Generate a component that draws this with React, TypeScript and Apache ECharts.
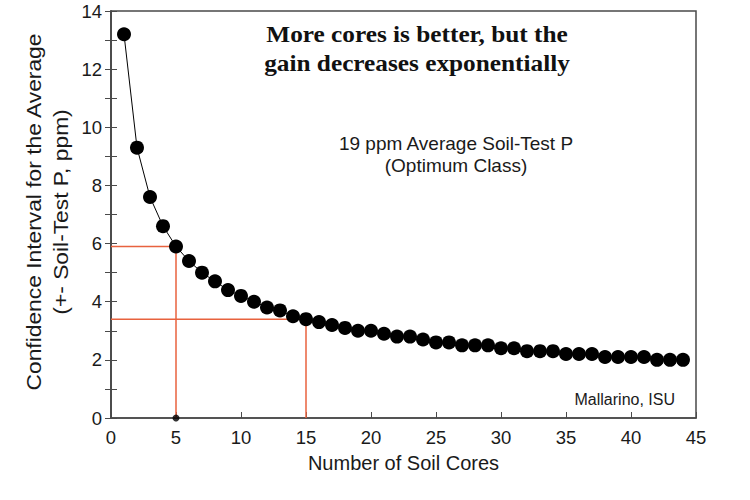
import React, { useEffect, useRef } from "react";
import * as echarts from "echarts";

const cores: number[] = [
  1, 2, 3, 4, 5, 6, 7, 8, 9, 10, 11, 12, 13, 14, 15, 16, 17, 18, 19, 20, 21, 22,
  23, 24, 25, 26, 27, 28, 29, 30, 31, 32, 33, 34, 35, 36, 37, 38, 39, 40, 41, 42, 43, 44,
];
const confidence: number[] = [
  13.2, 9.3, 7.6, 6.6, 5.9, 5.4, 5.0, 4.7, 4.4, 4.2, 4.0, 3.8, 3.7, 3.5, 3.4, 3.3, 3.2, 3.1,
  3.0, 3.0, 2.9, 2.8, 2.8, 2.7, 2.6, 2.6, 2.5, 2.5, 2.5, 2.4, 2.4, 2.3, 2.3, 2.3, 2.2, 2.2,
  2.2, 2.1, 2.1, 2.1, 2.1, 2.0, 2.0, 2.0,
];
const refLine5: [number, number][] = [[0, 5.9], [5, 5.9], [5, 0]];
const refLine15: [number, number][] = [[0, 3.4], [15, 3.4], [15, 0]];
const refDot: [number, number][] = [[5, 0]];

const titleText = "More cores is better, but the\ngain decreases exponentially";
const subtitleText = "19 ppm Average Soil-Test P\n(Optimum Class)";
const creditText = "Mallarino, ISU";
const xAxisName = "Number of Soil Cores";
const yAxisName = "Confidence Interval for the Average\n(+- Soil-Test P, ppm)";

export default function App() {
  const ref = useRef<HTMLDivElement>(null);
  useEffect(() => {
    if (!ref.current) return;
    const chart = echarts.init(ref.current, undefined, { renderer: "svg" });
    const sans = "Liberation Sans";
    const axisColor = "#4a4a4a";
    const red = "#e8623e";
    chart.setOption({
      animation: false,
      backgroundColor: "#fff",
      grid: { left: 111, right: 54, top: 11, bottom: 82, show: true, borderColor: axisColor, borderWidth: 1.5 },
      xAxis: {
        type: "value",
        min: 0,
        max: 45,
        interval: 5,
        axisLine: { show: true, onZero: false, lineStyle: { color: axisColor, width: 1.5 } },
        axisTick: { show: true, inside: true, length: 6, lineStyle: { color: axisColor } },
        axisLabel: { color: "#1a1a1a", fontFamily: sans, fontSize: 18.5, margin: 10 },
        splitLine: { show: false },
        name: xAxisName,
        nameLocation: "middle",
        nameGap: 35,
        nameTextStyle: { color: "#1a1a1a", fontFamily: sans, fontSize: 20 },
      },
      yAxis: [
        {
          type: "value",
          min: 0,
          max: 14,
          interval: 1,
          axisLine: { show: true, onZero: false, lineStyle: { color: axisColor, width: 1.5 } },
          axisTick: { show: true, inside: true, length: 6, lineStyle: { color: axisColor } },
          axisLabel: {
            color: "#1a1a1a",
            fontFamily: sans,
            fontSize: 18.5,
            margin: 9,
            formatter: (v: number) => (v % 2 === 0 ? String(v) : ""),
          },
          splitLine: { show: false },
        },
        {
          type: "value",
          position: "right",
          min: 0,
          max: 14,
          interval: 1,
          axisLine: { show: true, lineStyle: { color: axisColor, width: 1.5 } },
          axisTick: { show: true, inside: true, length: 6, lineStyle: { color: axisColor } },
          axisLabel: { show: false },
          splitLine: { show: false },
        },
      ],
      graphic: [
        {
          type: "text",
          x: 417,
          y: 48,
          scaleX: 1.1,
          style: {
            text: titleText,
            font: "bold 23px 'Liberation Serif'",
            fill: "#111",
            align: "center",
            verticalAlign: "middle",
            lineHeight: 29,
          },
        },
        {
          type: "text",
          x: 456,
          y: 154,
          style: {
            text: subtitleText,
            font: "19px 'Liberation Sans'",
            fill: "#1a1a1a",
            align: "center",
            verticalAlign: "middle",
            lineHeight: 22,
          },
        },
        {
          type: "text",
          x: 675,
          y: 399,
          style: {
            text: creditText,
            font: "16px 'Liberation Sans'",
            fill: "#1a1a1a",
            align: "right",
            verticalAlign: "middle",
          },
        },
        {
          type: "text",
          x: 47.5,
          y: 212,
          rotation: Math.PI / 2,
          scaleX: 1.14,
          style: {
            text: yAxisName,
            font: "20px 'Liberation Sans'",
            fill: "#1a1a1a",
            align: "center",
            verticalAlign: "middle",
            lineHeight: 27,
          },
        },
      ],
      series: [
        {
          type: "line",
          data: refLine5,
          symbol: "none",
          lineStyle: { color: red, width: 1.5 },
          z: 1,
        },
        {
          type: "line",
          data: refLine15,
          symbol: "none",
          lineStyle: { color: red, width: 1.5 },
          z: 1,
        },
        {
          type: "scatter",
          data: refDot,
          symbol: "circle",
          symbolSize: 7,
          itemStyle: { color: "#000" },
          clip: false,
          z: 3,
        },
        {
          type: "line",
          data: cores.map((c, i) => [c, confidence[i]]),
          symbol: "circle",
          symbolSize: 14,
          showSymbol: true,
          itemStyle: { color: "#000", borderWidth: 0 },
          lineStyle: { color: "#000", width: 1 },
          z: 5,
        },
      ],
    });
    return () => chart.dispose();
  }, []);
  return <div ref={ref} style={{ position: "fixed", left: 0, top: 0, width: 750, height: 500 }} />;
}
